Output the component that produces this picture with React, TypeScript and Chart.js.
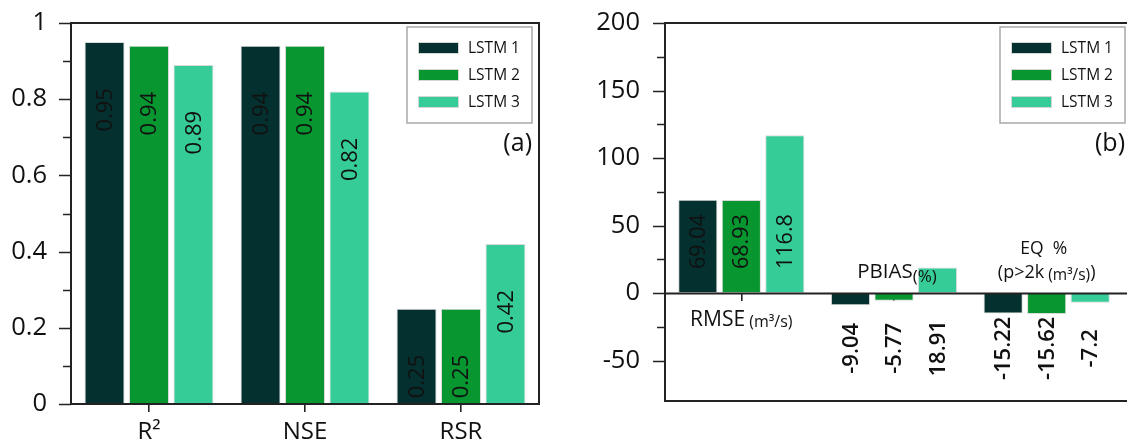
import React, { useEffect, useRef } from 'react';
import { Chart, registerables } from 'chart.js';

Chart.register(...registerables);

const FONT = '"Open Sans", "Noto Sans", "DejaVu Sans", sans-serif';
const TEXT = '#111111';
const AXIS = '#222222';

const seriesNames = ['LSTM 1', 'LSTM 2', 'LSTM 3'];
const seriesColors = ['#04302f', '#07962f', '#36cc97'];

// Panel (a)
const categoriesA = ['R²', 'NSE', 'RSR'];
const lstm1A = [0.95, 0.94, 0.25];
const lstm2A = [0.94, 0.94, 0.25];
const lstm3A = [0.89, 0.82, 0.42];
const yMajorA = [0, 0.2, 0.4, 0.6, 0.8, 1];
const yMinorA = [0.1, 0.3, 0.5, 0.7, 0.9];

// Panel (b)
const categoriesB = ['RMSE (m³/s)', 'PBIAS(%)', 'EQ % (p>2k (m³/s))'];
const lstm1B = [69.04, -9.04, -15.22];
const lstm2B = [68.93, -5.77, -15.62];
const lstm3B = [116.8, 18.91, -7.2];
const yMajorB = [-50, 0, 50, 100, 150, 200];
const yMinorB = [-25, 25, 75, 125, 175];

type Run = { t: string; size: number; dy?: number; weight?: string };

function drawRuns(ctx: CanvasRenderingContext2D, runs: Run[], cx: number, baseY: number) {
  ctx.save();
  ctx.textAlign = 'left';
  ctx.textBaseline = 'alphabetic';
  ctx.fillStyle = TEXT;
  const widths = runs.map((r) => {
    ctx.font = `${r.weight || '500'} ${r.size}px ${FONT}`;
    return ctx.measureText(r.t).width;
  });
  const total = widths.reduce((a, b) => a + b, 0);
  let x = cx - total / 2;
  runs.forEach((r, i) => {
    ctx.font = `${r.weight || '500'} ${r.size}px ${FONT}`;
    ctx.fillText(r.t, x, baseY + (r.dy || 0));
    x += widths[i];
  });
  ctx.restore();
}

function drawRotated(
  ctx: CanvasRenderingContext2D,
  text: string,
  x: number,
  y: number,
  align: CanvasTextAlign,
  font: string
) {
  ctx.save();
  ctx.translate(x, y);
  ctx.rotate(-Math.PI / 2);
  ctx.font = font;
  ctx.textAlign = align;
  ctx.textBaseline = 'middle';
  ctx.fillStyle = TEXT;
  ctx.fillText(text, 0, 1);
  ctx.restore();
}

function drawYTicks(chart: any, majors: number[], minors: number[]) {
  const ctx = chart.ctx as CanvasRenderingContext2D;
  const y = chart.scales.y;
  const left = chart.chartArea.left;
  ctx.save();
  ctx.strokeStyle = AXIS;
  ctx.lineWidth = 1.6;
  ctx.beginPath();
  majors.forEach((v) => {
    const p = Math.round(y.getPixelForValue(v)) + 0.5;
    ctx.moveTo(left - 12, p);
    ctx.lineTo(left, p);
  });
  minors.forEach((v) => {
    const p = Math.round(y.getPixelForValue(v)) + 0.5;
    ctx.moveTo(left - 8, p);
    ctx.lineTo(left, p);
  });
  ctx.stroke();
  ctx.restore();
}

function drawLegend(chart: any, left: number, top: number, tag: string) {
  const ctx = chart.ctx as CanvasRenderingContext2D;
  const w = 125;
  const h = 96;
  ctx.save();
  ctx.strokeStyle = '#a8a8a8';
  ctx.lineWidth = 1.5;
  ctx.strokeRect(left, top, w, h);
  chart.data.datasets.forEach((ds: any, i: number) => {
    const cy = top + 21 + i * 27;
    ctx.fillStyle = ds.backgroundColor;
    ctx.fillRect(left + 11, cy - 6, 41, 12);
    ctx.strokeStyle = '#d6d6d6';
    ctx.lineWidth = 1;
    ctx.strokeRect(left + 11.5, cy - 5.5, 40, 11);
    ctx.fillStyle = TEXT;
    ctx.font = `15.5px ${FONT}`;
    ctx.textAlign = 'left';
    ctx.textBaseline = 'middle';
    ctx.fillText(ds.label, left + 61, cy + 1);
  });
  ctx.font = `500 25px ${FONT}`;
  ctx.textAlign = 'right';
  ctx.textBaseline = 'middle';
  ctx.fillStyle = TEXT;
  ctx.fillText(tag, left + w, top + 117);
  ctx.restore();
}

const panelAPlugin = {
  id: 'panelA',
  afterDatasetsDraw(chart: any) {
    const ctx = chart.ctx as CanvasRenderingContext2D;
    chart.data.datasets.forEach((ds: any, d: number) => {
      const meta = chart.getDatasetMeta(d);
      meta.data.forEach((el: any, i: number) => {
        drawRotated(ctx, String(ds.data[i]), el.x, el.y + 46, 'right', `500 22px ${FONT}`);
      });
    });
  },
  afterDraw(chart: any) {
    const ctx = chart.ctx as CanvasRenderingContext2D;
    const a = chart.chartArea;
    ctx.save();
    ctx.strokeStyle = AXIS;
    ctx.lineWidth = 2;
    ctx.strokeRect(a.left, a.top, a.right - a.left, a.bottom - a.top);
    ctx.restore();
    drawYTicks(chart, yMajorA, yMinorA);
    drawLegend(chart, 407, 27, '(a)');
  },
};

const panelBPlugin = {
  id: 'panelB',
  afterDatasetsDraw(chart: any) {
    const ctx = chart.ctx as CanvasRenderingContext2D;
    const y = chart.scales.y;
    const zero = y.getPixelForValue(0);
    chart.data.datasets.forEach((ds: any, d: number) => {
      const meta = chart.getDatasetMeta(d);
      meta.data.forEach((el: any, i: number) => {
        const txt = String(ds.data[i]);
        if (i === 0) {
          drawRotated(ctx, txt, el.x, zero - 24, 'left', `500 21.5px ${FONT}`);
        } else {
          drawRotated(ctx, txt, el.x, y.getPixelForValue(-41), 'center', `600 22px ${FONT}`);
        }
      });
    });
  },
  afterDraw(chart: any) {
    const ctx = chart.ctx as CanvasRenderingContext2D;
    const a = chart.chartArea;
    const W = chart.width;
    const y = chart.scales.y;
    const x = chart.scales.x;
    const zero = Math.round(y.getPixelForValue(0)) + 0.5;
    ctx.save();
    ctx.strokeStyle = AXIS;
    ctx.lineWidth = 2;
    ctx.beginPath();
    ctx.moveTo(W + 5, a.top);
    ctx.lineTo(a.left, a.top);
    ctx.lineTo(a.left, a.bottom);
    ctx.lineTo(W + 5, a.bottom);
    ctx.stroke();
    ctx.lineWidth = 1.8;
    ctx.beginPath();
    ctx.moveTo(a.left, zero);
    ctx.lineTo(W + 5, zero);
    ctx.stroke();
    ctx.restore();
    drawYTicks(chart, yMajorB, yMinorB);

    const c0 = x.getPixelForValue(0);
    const c1 = x.getPixelForValue(1);
    const c2 = x.getPixelForValue(2);
    drawRuns(ctx, [{ t: 'RMSE', size: 21 }, { t: ' (m³/s)', size: 16, dy: 1 }], c0, zero + 32);
    drawRuns(ctx, [{ t: 'PBIAS', size: 20.5 }, { t: '(%)', size: 17, dy: 4 }], c1 + 3, zero - 16);
    drawRuns(ctx, [{ t: 'EQ  %', size: 17.5 }], c2 - 3, zero - 40);
    drawRuns(
      ctx,
      [
        { t: '(p>2k', size: 18 },
        { t: ' (m³/s)', size: 15.5, dy: 2 },
        { t: ')', size: 18 },
      ],
      c2,
      zero - 16
    );
    drawLegend(chart, 440, 27, '(b)');
  },
};

function makeDatasets(a: number[], b: number[], c: number[]) {
  return [a, b, c].map((data, i) => ({
    label: seriesNames[i],
    data,
    backgroundColor: seriesColors[i],
    borderColor: '#d9d9d9',
    borderWidth: 1,
    borderSkipped: false,
    barPercentage: 0.9,
    categoryPercentage: 0.855,
  }));
}

const noPadY = (width: number) => (s: any) => {
  s.width = width;
  s.paddingTop = 0;
  s.paddingBottom = 0;
};

export default function App() {
  const refA = useRef<HTMLCanvasElement>(null);
  const refB = useRef<HTMLCanvasElement>(null);

  useEffect(() => {
    let cancelled = false;
    let chartA: Chart | null = null;
    let chartB: Chart | null = null;

    const build = () => {
      if (cancelled || !refA.current || !refB.current) return;
      chartA = new Chart(refA.current, {
        type: 'bar',
        data: { labels: categoriesA, datasets: makeDatasets(lstm1A, lstm2A, lstm3A) as any },
        options: {
          animation: false,
          responsive: false,
          devicePixelRatio: 1,
          layout: { padding: { top: 23, right: 21, bottom: 0, left: 0 } },
          plugins: { legend: { display: false }, tooltip: { enabled: false } },
          scales: {
            x: {
              type: 'category',
              offset: true,
              grid: {
                display: true,
                drawOnChartArea: false,
                drawTicks: true,
                tickLength: 8,
                offset: false,
                color: AXIS,
                lineWidth: 1.6,
              },
              border: { display: false },
              ticks: { font: { family: FONT, size: 24, weight: '500' }, color: TEXT, padding: 6, maxRotation: 0 },
              afterFit: (s: any) => {
                s.height = 35;
                s.paddingLeft = 0;
                s.paddingRight = 0;
              },
            },
            y: {
              min: 0,
              max: 1,
              afterBuildTicks: (s: any) => {
                s.ticks = yMajorA.map((v) => ({ value: v }));
              },
              ticks: {
                font: { family: FONT, size: 25.5, weight: '500' },
                color: TEXT,
                padding: 24,
                callback: (v: any) => String(v),
              },
              grid: { display: false, drawTicks: false },
              border: { display: false },
              afterFit: noPadY(71),
            },
          },
        },
        plugins: [panelAPlugin],
      });

      chartB = new Chart(refB.current, {
        type: 'bar',
        data: { labels: categoriesB, datasets: makeDatasets(lstm1B, lstm2B, lstm3B) as any },
        options: {
          animation: false,
          responsive: false,
          devicePixelRatio: 1,
          layout: { padding: { top: 23, right: 4, bottom: 38, left: 0 } },
          plugins: { legend: { display: false }, tooltip: { enabled: false } },
          scales: {
            x: {
              type: 'category',
              position: { y: 0 } as any,
              offset: true,
              grid: {
                display: true,
                drawOnChartArea: false,
                drawTicks: true,
                tickLength: 8,
                offset: false,
                color: AXIS,
                lineWidth: 1.6,
              },
              border: { display: false },
              ticks: { display: false },
              afterFit: (s: any) => {
                s.paddingLeft = 0;
                s.paddingRight = 0;
              },
            },
            y: {
              min: -80,
              max: 200,
              afterBuildTicks: (s: any) => {
                s.ticks = yMajorB.map((v) => ({ value: v }));
              },
              ticks: {
                font: { family: FONT, size: 25.5, weight: '500' },
                color: TEXT,
                padding: 25,
                callback: (v: any) => String(v),
              },
              grid: { display: false, drawTicks: false },
              border: { display: false },
              afterFit: noPadY(105),
            },
          },
        },
        plugins: [panelBPlugin],
      });
    };

    const fonts = (document as any).fonts;
    if (fonts && fonts.load) {
      Promise.all([
        fonts.load(`25px "Open Sans"`),
        fonts.load(`500 22px "Open Sans"`),
        fonts.load(`600 22px "Open Sans"`),
      ])
        .catch(() => null)
        .then(build);
    } else {
      build();
    }

    return () => {
      cancelled = true;
      if (chartA) chartA.destroy();
      if (chartB) chartB.destroy();
    };
  }, []);

  return (
    <div
      style={{
        position: 'fixed',
        left: 0,
        top: 0,
        width: 1127,
        height: 439,
        overflow: 'hidden',
        background: '#fff',
      }}
    >
      <canvas ref={refA} width={560} height={439} style={{ position: 'absolute', left: 0, top: 0 }} />
      <canvas ref={refB} width={567} height={439} style={{ position: 'absolute', left: 560, top: 0 }} />
    </div>
  );
}
